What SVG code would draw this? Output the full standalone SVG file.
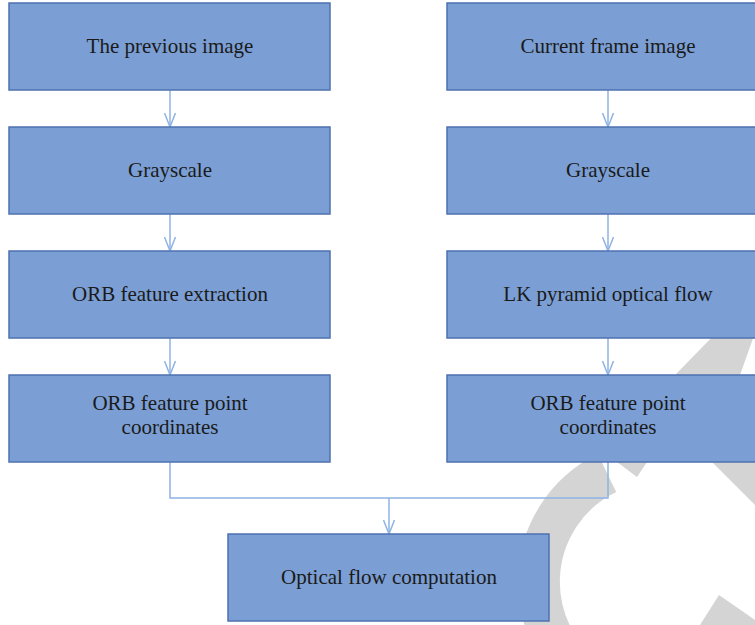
<svg xmlns="http://www.w3.org/2000/svg" width="755" height="625" viewBox="0 0 755 625">
<defs>
<style>
.box{fill:#7b9fd4;stroke:#4d72b0;stroke-width:1.5}
.lbl{font-family:"Liberation Serif","Times New Roman",serif;font-size:21px;fill:#1a1a1a;text-anchor:middle}
.wm{fill:#d4d4d4}
.con{fill:none;stroke:#8fb3e3;stroke-width:1.5}
</style>
<marker id="ah" viewBox="0 0 16 12" refX="15" refY="6" markerWidth="16" markerHeight="12" markerUnits="userSpaceOnUse" orient="auto">
<path d="M1,0.5 L15,6 L1,11.5" fill="none" stroke="#8fb3e3" stroke-width="1.5"/>
</marker>
</defs>
<rect width="755" height="625" fill="#ffffff"/>
<g id="watermark">
<path d="M607,473 A121,121 0 0 0 600,687" fill="none" stroke="#d4d4d4" stroke-width="42"/>
<polygon class="wm" points="719,330 756,330 740,375 647,462 637,477 617,462 677,373"/>
<polygon class="wm" points="700,440 755,440 755,505 712,462"/>
<polygon class="wm" points="719,595 755,620 755,625 700,625"/>
</g>
<g id="connectors">
<path class="con" d="M170,90 V127" marker-end="url(#ah)"/>
<path class="con" d="M170,214 V251" marker-end="url(#ah)"/>
<path class="con" d="M170,338 V375" marker-end="url(#ah)"/>
<path class="con" d="M608,90 V127" marker-end="url(#ah)"/>
<path class="con" d="M608,214 V251" marker-end="url(#ah)"/>
<path class="con" d="M608,338 V375" marker-end="url(#ah)"/>
<path class="con" d="M170,462 V498 H608 V462"/>
<path class="con" d="M389,498 V534" marker-end="url(#ah)"/>
</g>
<g id="n1"><rect class="box" x="9" y="3" width="321" height="87"/><text class="lbl" x="170" y="53">The previous image</text></g>
<g id="n2"><rect class="box" x="9" y="127" width="321" height="87"/><text class="lbl" x="170" y="177">Grayscale</text></g>
<g id="n3"><rect class="box" x="9" y="251" width="321" height="87"/><text class="lbl" x="170" y="301">ORB feature extraction</text></g>
<g id="n4"><rect class="box" x="9" y="375" width="321" height="87"/><text class="lbl" x="170" y="410">ORB feature point</text><text class="lbl" x="170" y="434">coordinates</text></g>
<g id="n5"><rect class="box" x="447" y="3" width="321" height="87"/><text class="lbl" x="608" y="53">Current frame image</text></g>
<g id="n6"><rect class="box" x="447" y="127" width="321" height="87"/><text class="lbl" x="608" y="177">Grayscale</text></g>
<g id="n7"><rect class="box" x="447" y="251" width="321" height="87"/><text class="lbl" x="608" y="301">LK pyramid optical flow</text></g>
<g id="n8"><rect class="box" x="447" y="375" width="321" height="87"/><text class="lbl" x="608" y="410">ORB feature point</text><text class="lbl" x="608" y="434">coordinates</text></g>
<g id="n9"><rect class="box" x="228" y="534" width="321" height="87"/><text class="lbl" x="389" y="584">Optical flow computation</text></g>
</svg>
